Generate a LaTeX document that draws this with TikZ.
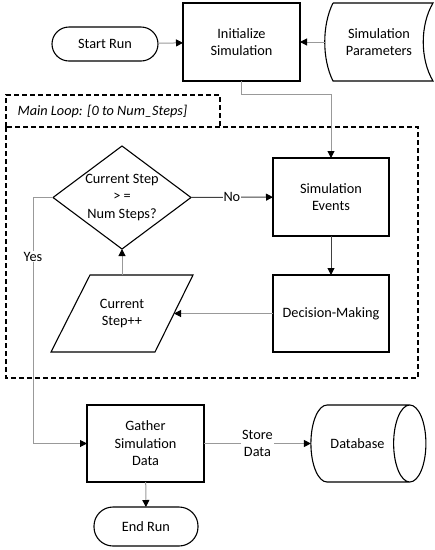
\documentclass[tikz,border=0pt]{standalone}
\usepackage{fontspec}
\setmainfont{Carlito}
\usepackage{tikz}
\usetikzlibrary{arrows.meta, positioning, shapes.geometric}

\begin{document}
\begin{tikzpicture}[x=1pt, y=-1pt, font=\fontsize{14.3}{17.5}\selectfont,
    box/.style={draw, line width=1.1pt, align=center, inner sep=2pt, outer sep=0pt},
    proc/.style={box, rectangle, minimum width=117, minimum height=78},
    term/.style={box, rectangle, rounded corners=17pt, minimum width=106, minimum height=34},
    conn/.style={draw=black!40, line width=1pt, -{Triangle[black, length=7pt, width=7pt]}},
    darkconn/.style={conn, draw=black!75},
    lbl/.style={fill=white, inner sep=1pt, align=center},
    loopbox/.style={draw, line width=1.1pt, dash pattern=on 5pt off 3pt}]
\useasboundingbox (0,0) rectangle (435,550);

% top row
\node[term] (start) at (105,44) {Start Run};
\node[proc] (init) at (241.5,42) {Initialize\\Simulation};
\node[align=center, minimum width=108, minimum height=78, outer sep=0pt] (params) at (379,42) {Simulation\\Parameters};
\draw[line width=1.1pt] (333,3) -- (433,3) .. controls (420,25) and (420,59) .. (433,81)
    -- (333,81) .. controls (322,59) and (322,25) .. (333,3);

% main loop
\draw[loopbox] (6,127) rectangle (418,378);
\draw[loopbox] (6,127) -- (6,95) -- (220,95) -- (220,127);
\node[anchor=west, font=\fontsize{14.3}{17}\selectfont\itshape] (looplabel) at (14,111) {Main Loop: [0 to Num\_Steps]};

\node[box, diamond, aspect=1.34, inner sep=0pt, minimum width=138, minimum height=103] (check) at (122,197.5) {Current Step\\> =\\Num Steps?};
\node[proc, minimum width=116] (simev) at (331,197) {Simulation\\Events};
\node[proc, minimum width=116, minimum height=77] (decide) at (331,313.5) {Decision-Making};
\node[align=center, minimum width=104, minimum height=77, outer sep=0pt] (curstep) at (122,313.5) {Current\\Step++};
\draw[line width=1.1pt] (90,275) -- (193,275) -- (155,352) -- (51,352) -- cycle;

% bottom row
\node[box, cylinder, aspect=2.3, minimum width=77, minimum height=115] (db) at (357.5,443.5) {Database};
\node[proc, minimum height=77] (gather) at (145.5,443.5) {Gather\\Simulation\\Data};
\node[term, minimum width=104, minimum height=39, rounded corners=19pt] (endrun) at (146,526.5) {End Run};

% connectors
\draw[conn] (start) -- (init);
\draw[conn] (params) -- (init);
\draw[conn] (init.south) -- ++(0,13) -| (simev.north);
\draw[darkconn] (check) -- node[lbl] {No} (simev);
\draw[darkconn] (simev) -- (decide);
\draw[conn] (decide) -- (curstep);
\draw[conn] (curstep) -- (check);
\draw[conn] (check.west) -- ++(-20,0) |- node[lbl, pos=0.12] {Yes} (gather.west);
\draw[conn] (gather) -- node[lbl] {Store\\Data} (db);
\draw[conn] (gather) -- (endrun);
\end{tikzpicture}
\end{document}
